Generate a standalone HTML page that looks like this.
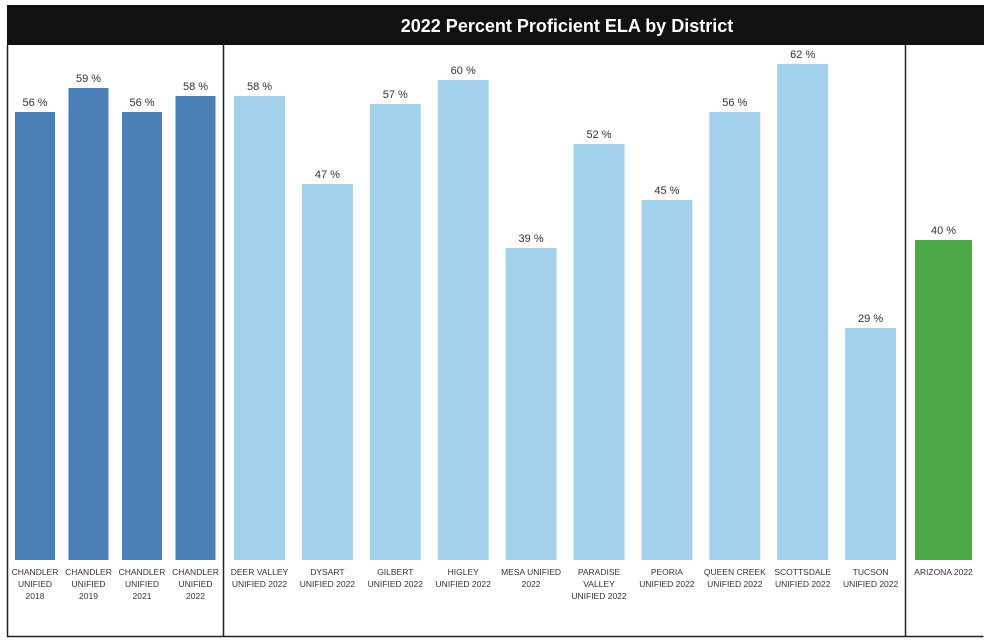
<!DOCTYPE html>
<html><head><meta charset="utf-8"><style>
body{margin:0;background:#fff;width:984px;height:640px;overflow:hidden;font-family:"Liberation Sans",sans-serif}
svg{display:block}
</style></head><body>
<svg id="c" width="984" height="640">
<rect x="7" y="5" width="977" height="40" fill="#111"/>
<text x="567" y="32" fill="#fff" font-size="18" font-weight="bold" text-anchor="middle">2022 Percent Proficient ELA by District</text>
<g id="bars"></g>
<path d="M7.5 45V636.5H983.5M223.5 45V636.5M905.5 45V636.5" stroke="#222" stroke-width="1.5" fill="none"/>
</svg>
<script>
const categories=[["CHANDLER","UNIFIED","2018"],["CHANDLER","UNIFIED","2019"],["CHANDLER","UNIFIED","2021"],["CHANDLER","UNIFIED","2022"],["DEER VALLEY","UNIFIED  2022"],["DYSART","UNIFIED  2022"],["GILBERT","UNIFIED  2022"],["HIGLEY","UNIFIED  2022"],["MESA UNIFIED","2022"],["PARADISE","VALLEY","UNIFIED  2022"],["PEORIA","UNIFIED  2022"],["QUEEN CREEK","UNIFIED  2022"],["SCOTTSDALE","UNIFIED  2022"],["TUCSON","UNIFIED  2022"],["ARIZONA 2022"]];
const values=[56,59,56,58,58,47,57,60,39,52,45,56,62,29,40];
const groups=["chandler","chandler","chandler","chandler","district","district","district","district","district","district","district","district","district","district","state"];
const colors={chandler:"#4a7fb5",district:"#a3d1ec",state:"#4ba946"};
const base=560,perPct=8;
function y(v){return base-v*perPct;}
function xPos(i){
  if(i<4) return {x:15+i*53.5,w:40};
  if(i<14) return {x:234+(i-4)*67.9,w:51};
  return {x:915,w:57};
}
const g=document.getElementById('bars');
const ns="http://www.w3.org/2000/svg";
values.forEach((v,i)=>{
  const p=xPos(i);
  const r=document.createElementNS(ns,'rect');
  r.setAttribute('x',p.x);r.setAttribute('y',y(v));r.setAttribute('width',p.w);r.setAttribute('height',base-y(v));
  r.setAttribute('fill',colors[groups[i]]);
  
  
  g.appendChild(r);
  const t=document.createElementNS(ns,'text');
  t.setAttribute('x',p.x+p.w/2);t.setAttribute('y',y(v)-6);t.setAttribute('text-anchor','middle');
  t.setAttribute('font-size','11');t.setAttribute('fill','#333');
  t.textContent=v+' %';
  
  
  g.appendChild(t);
  categories[i].forEach((line,j)=>{
    const l=document.createElementNS(ns,'text');
    l.setAttribute('x',p.x+p.w/2);l.setAttribute('y',575+j*12);l.setAttribute('text-anchor','middle');
    l.setAttribute('font-size','8.5');l.setAttribute('fill','#333');l.setAttribute('xml:space','preserve');
    l.textContent=line;
    
    
    g.appendChild(l);
  });
});
</script>
</body></html>
